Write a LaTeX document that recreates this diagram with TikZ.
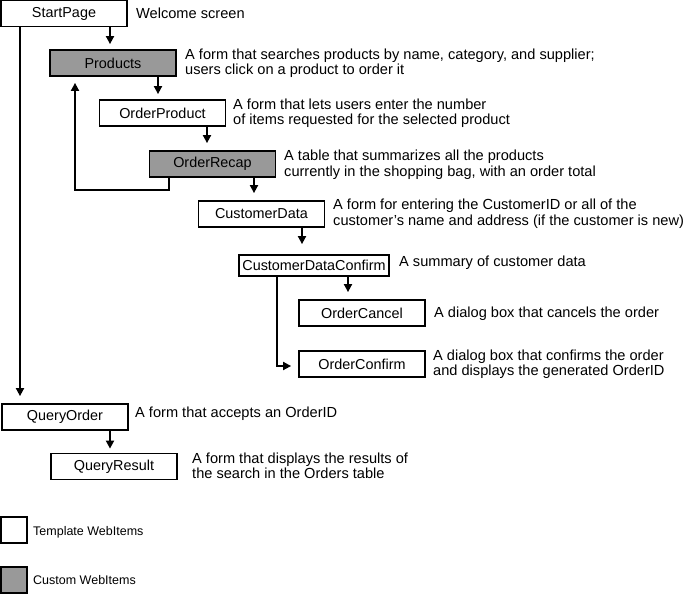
\documentclass[tikz,border=0pt]{standalone}
\usepackage{fontspec}
\setmainfont{Liberation Sans}
\usetikzlibrary{arrows.meta}
\definecolor{customgray}{HTML}{999999}
\tikzset{
  page/.style={draw=black, line width=1.8pt, fill=white, minimum width=126pt,
    minimum height=26pt, inner sep=0pt, font=\fontsize{14.4}{15.5}\selectfont},
  custom/.style={page, fill=customgray},
  desc/.style={anchor=west, inner sep=0pt, align=left,
    font=\fontsize{14.6}{15.5}\selectfont},
  legendtext/.style={anchor=west, inner sep=0pt, font=\fontsize{12.5}{14}\selectfont},
  flow/.style={draw=black, line width=1.8pt,
    -{Triangle[length=8pt,width=8pt]}},
}
\begin{document}
\begin{tikzpicture}[x=1pt, y=-1pt]
  \useasboundingbox (0,0) rectangle (686,594);

  % pages of the order flow
  \node[page]   (start)   at (64,13.5)  {StartPage};
  \node[custom] (prod)    at (113,63)   {Products};
  \node[page]   (oprod)   at (162.5,113) {OrderProduct};
  \node[custom] (recap)   at (212.5,164) {OrderRecap};
  \node[page]   (cdata)   at (261.5,214) {CustomerData};
  \node[page, minimum width=150pt, minimum height=21pt] (cconf) at (314,265.5) {CustomerDataConfirm};
  \node[page]   (ocancel) at (362,313)   {OrderCancel};
  \node[page]   (oconf)   at (362,364)   {OrderConfirm};
  \node[page]   (qorder)  at (65,417)    {QueryOrder};
  \node[page]   (qres)    at (114,466.5) {QueryResult};

  % descriptions
  \node[desc] (dstart)   at (136,13.5)  {Welcome screen};
  \node[desc] (dprod)    at (185,63)    {A form that searches products by name, category, and supplier;\\users click on a product to order it};
  \node[desc] (doprod)   at (233,113)   {A form that lets users enter the number\\of items requested for the selected product};
  \node[desc] (drecap)   at (284,164.5) {A table that summarizes all the products\\currently in the shopping bag, with an order total};
  \node[desc] (dcdata)   at (333,213.5) {A form for entering the CustomerID or all of the\\customer’s name and address (if the customer is new)};
  \node[desc] (dcconf)   at (399,262.5) {A summary of customer data};
  \node[desc] (docancel) at (434,313.5) {A dialog box that cancels the order};
  \node[desc] (doconf)   at (433,364)   {A dialog box that confirms the order\\and displays the generated OrderID};
  \node[desc] (dqorder)  at (135,413.5) {A form that accepts an OrderID};
  \node[desc] (dqres)    at (192,466)   {A form that displays the results of\\the search in the Orders table};

  % connectors
  \draw[flow, shorten >=5pt] ([xshift=46pt]start.south) -- ([xshift=-3pt]prod.north);
  \draw[flow, shorten >=5pt] ([xshift=45pt]prod.south) -- ([xshift=-4.5pt]oprod.north);
  \draw[flow, shorten >=7pt] ([xshift=44.5pt]oprod.south) -- ([xshift=-5.5pt]recap.north);
  \draw[flow, shorten >=7pt] ([xshift=41.5pt]recap.south) -- ([xshift=-7.5pt]cdata.north);
  \draw[flow, shorten >=10pt] ([xshift=40.5pt]cdata.south) -- ([xshift=-12pt]cconf.north);
  \draw[flow, shorten >=7pt] ([xshift=34pt]cconf.south) -- ([xshift=-14pt]ocancel.north);
  \draw[flow, shorten >=7pt] ([xshift=-37pt]cconf.south) |- ([yshift=-2pt]oconf.west);
  \draw[flow, shorten >=6pt] ([xshift=-43.5pt]recap.south) -- ++(0,12) -| ([xshift=-38pt]prod.south);
  \draw[flow, shorten >=7pt] ([xshift=-44pt]start.south) -- ([xshift=-45pt]qorder.north);
  \draw[flow, shorten >=4pt] ([xshift=45pt]qorder.south) -- ([xshift=-4pt]qres.north);

  % legend
  \node[page, minimum width=26pt] (ltemplate) at (14,530) {};
  \node[custom, minimum width=26pt] (lcustom) at (14,580) {};
  \node[legendtext] (ttemplate) at (33,532) {Template WebItems};
  \node[legendtext] (tcustom)   at (33,580) {Custom WebItems};
\end{tikzpicture}
\end{document}
